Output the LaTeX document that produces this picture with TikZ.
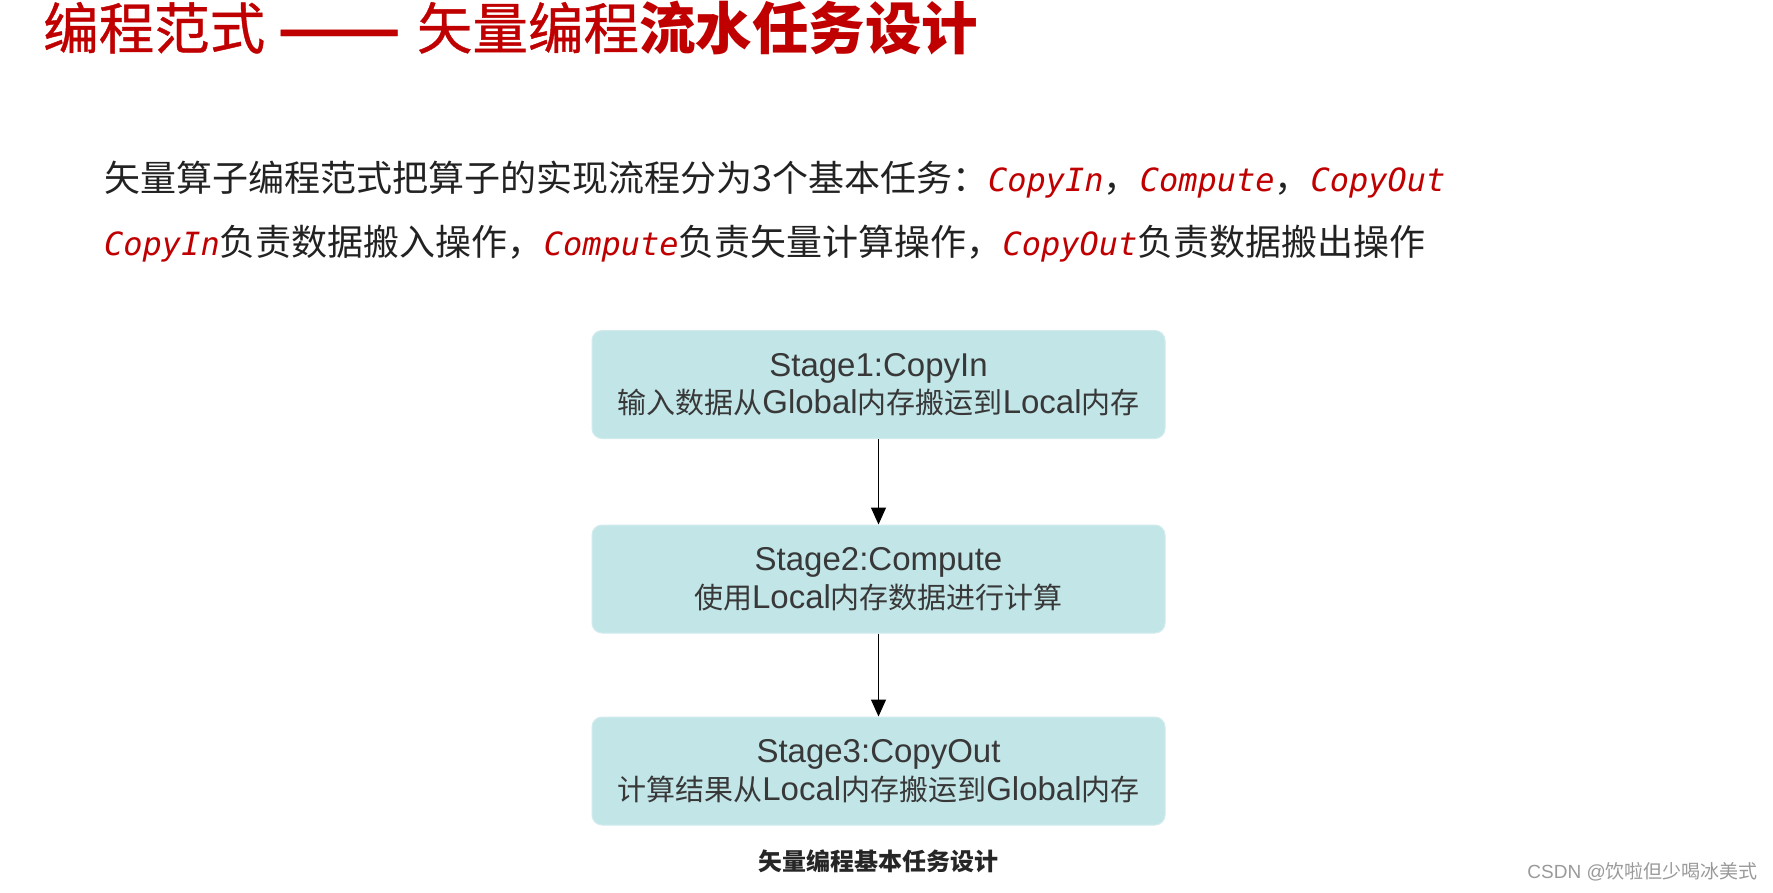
\documentclass[tikz,border=0pt]{standalone}
\usepackage{fontspec}
\usetikzlibrary{arrows.meta}
\setmainfont{Liberation Sans}
\newfontfamily\cjk{Noto Sans CJK SC}
\newfontfamily\cjkmed[FakeBold=0.7]{Noto Sans CJK SC}
\newfontfamily\lat{Liberation Sans}
\newfontfamily\monof{DejaVu Sans Mono}
\definecolor{titlered}{HTML}{C00000}
\definecolor{boxfill}{HTML}{C2E5E8}
\definecolor{boxline}{HTML}{D2ECEE}
\definecolor{bodytext}{HTML}{222222}
\definecolor{boxtext}{HTML}{383838}
\definecolor{wmark}{HTML}{9A9A9A}
\newcommand{\codew}[1]{{\monof\itshape\fontsize{32}{32}\selectfont\color{titlered}#1}}
\newcommand{\latw}[1]{{\lat\fontsize{33}{37.5}\selectfont #1}}
\begin{document}
\begin{tikzpicture}[x=1pt,y=-1pt,
  stagebox/.style={draw=boxline, line width=1pt, fill=boxfill, rounded corners=10pt,
    minimum width=573pt, minimum height=108pt, inner sep=0pt, align=center,
    text=boxtext, font=\cjk\fontsize{29}{37.5}\selectfont},
  flowarrow/.style={draw=black, line width=1.3pt, -{Triangle[length=17pt,width=15pt]}},
  bodyline/.style={anchor=base west, inner sep=0pt, text=bodytext, font=\cjk\fontsize{36}{36}\selectfont}
]
\useasboundingbox (0,0) rectangle (1773,892);
\fill[white] (0,0) rectangle (1773,892);

\node[anchor=base west, inner sep=0pt, text=titlered, font=\cjkmed\fontsize{55.5}{56}\selectfont] (title) at (43,49)
  {编程范式\hspace{12pt}\scalebox{1.3}[1]{\textbf{——}}\hspace{16pt}矢量编程{\cjk\bfseries\fontsize{56.5}{56}\selectfont 流水任务设计}};

\node[bodyline] (line1) at (104,191.5)
  {矢量算子编程范式把算子的实现流程分为3个基本任务：\codew{CopyIn}，\codew{Compute}，\codew{CopyOut}};
\node[bodyline] (line2) at (104,255)
  {\codew{CopyIn}负责数据搬入操作，\codew{Compute}负责矢量计算操作，\codew{CopyOut}负责数据搬出操作};

\node[stagebox] (s1) at (878.5,384.5)
  {\latw{Stage1:CopyIn}\\输入数据从\latw{Global}内存搬运到\latw{Local}内存};
\node[stagebox] (s2) at (878.5,579)
  {\latw{Stage2:Compute}\\使用\latw{Local}内存数据进行计算};
\node[stagebox] (s3) at (878.5,771)
  {\latw{Stage3:CopyOut}\\计算结果从\latw{Local}内存搬运到\latw{Global}内存};

\draw[flowarrow] (s1.south) -- (s2.north);
\draw[flowarrow] (s2.south) -- (s3.north);

\node[inner sep=0pt, text=black!85, font=\cjk\bfseries\fontsize{24}{24}\selectfont] (caption) at (878.5,861.5)
  {矢量编程基本任务设计};

\node[anchor=east, inner sep=0pt, text=wmark, font=\cjk\fontsize{19}{19}\selectfont] (wm) at (1758,872)
  {{\lat CSDN @}饮啦但少喝冰美式};
\end{tikzpicture}
\end{document}
